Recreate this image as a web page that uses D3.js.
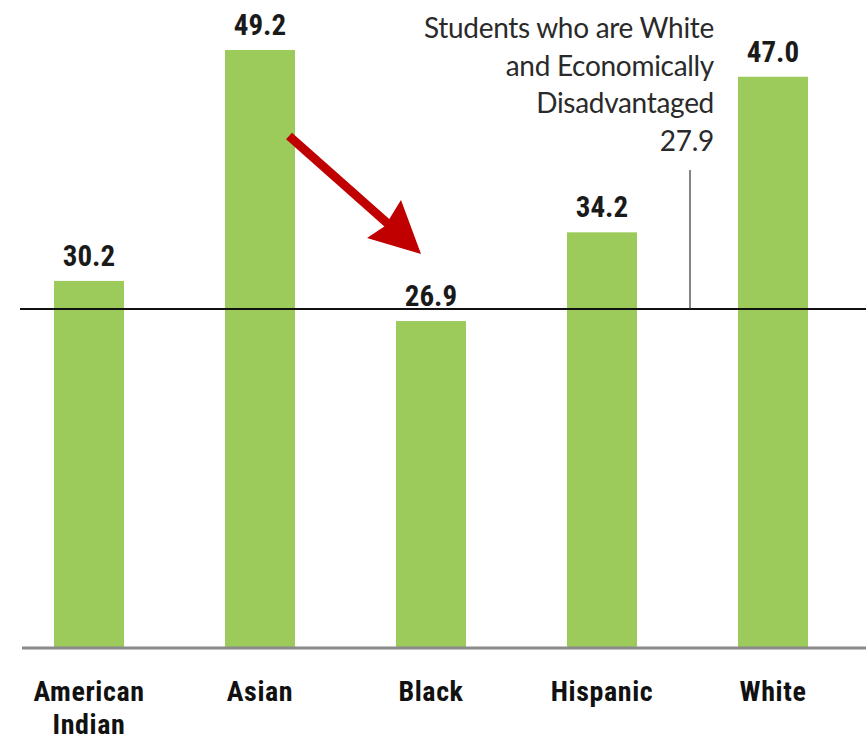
<!DOCTYPE html>
<html><head><meta charset="utf-8">
<script src="https://cdn.jsdelivr.net/npm/d3@7/dist/d3.min.js"></script>
<style>body{margin:0;background:#fff}svg{display:block}</style>
</head><body>
<svg id="c" width="866" height="743"></svg>
<script>
const categories = ["American Indian", "Asian", "Black", "Hispanic", "White"];
const values = [30.2, 49.2, 26.9, 34.2, 47.0];
const referenceValue = 27.9;
const referenceLabel = ["Students who are White", "and Economically", "Disadvantaged", "27.9"];

const svg = d3.select("#c");
const baseY = 648;
const barW = 70;
const y = d3.scaleLinear().domain([0, 49.2]).range([baseY, 50]);
const x = d3.scalePoint().domain(categories).range([89, 773]);

svg.selectAll("rect.bar").data(values).join("rect")
  .attr("class", "bar")
  .attr("x", (d, i) => x(categories[i]) - barW / 2)
  .attr("width", barW)
  .attr("y", d => y(d))
  .attr("height", d => baseY - y(d))
  .attr("fill", "#9dcb5b");

// baseline
svg.append("line").attr("x1", 22).attr("x2", 866).attr("y1", baseY).attr("y2", baseY)
  .attr("stroke", "#8a8a8a").attr("stroke-width", 3);

// reference line
svg.append("line").attr("x1", 20).attr("x2", 866).attr("y1", y(referenceValue)).attr("y2", y(referenceValue))
  .attr("stroke", "#111").attr("stroke-width", 2);
svg.append("line").attr("x1", 690).attr("x2", 690).attr("y1", 170).attr("y2", y(referenceValue))
  .attr("stroke", "#333").attr("stroke-width", 1.2);

const lab = svg.append("text").attr("text-anchor", "end")
  .attr("font-family", "Lato, 'Open Sans', sans-serif").attr("font-weight", 400)
  .attr("font-size", 28).attr("fill", "#2a2a2a").attr("letter-spacing", -0.3);
referenceLabel.forEach((t, i) => lab.append("tspan").attr("x", 714).attr("y", 38 + i * 37.5).text(t));

// value labels
svg.selectAll("text.val").data(values).join("text")
  .attr("class", "val")
  .attr("x", (d, i) => x(categories[i]))
  .attr("y", d => y(d) - 15)
  .attr("text-anchor", "middle")
  .attr("font-family", "'Roboto Condensed', 'Liberation Sans Narrow', sans-serif")
  .attr("font-weight", "bold").attr("font-size", 29).attr("fill", "#1a1a1a")
  .text(d => d.toFixed(1));

// category labels
const cats = svg.selectAll("text.cat").data(categories).join("text")
  .attr("class", "cat")
  .attr("text-anchor", "middle")
  .attr("font-family", "'Roboto Condensed', 'Liberation Sans Narrow', sans-serif")
  .attr("font-weight", "bold").attr("font-size", 28).attr("letter-spacing", 0.6).attr("fill", "#111");
cats.each(function(d) {
  const words = d.split(" ");
  const cx = x(d);
  words.forEach((w, j) => d3.select(this).append("tspan").attr("x", cx).attr("y", 701 + j * 33).text(w));
});

// red arrow
svg.append("line").attr("x1", 289).attr("y1", 136).attr("x2", 395).attr("y2", 230)
  .attr("stroke", "#c00000").attr("stroke-width", 9);
svg.append("path").attr("d", "M421,254 L367,238 L385,226 L401,200 Z").attr("fill", "#c00000");
</script>
</body></html>
